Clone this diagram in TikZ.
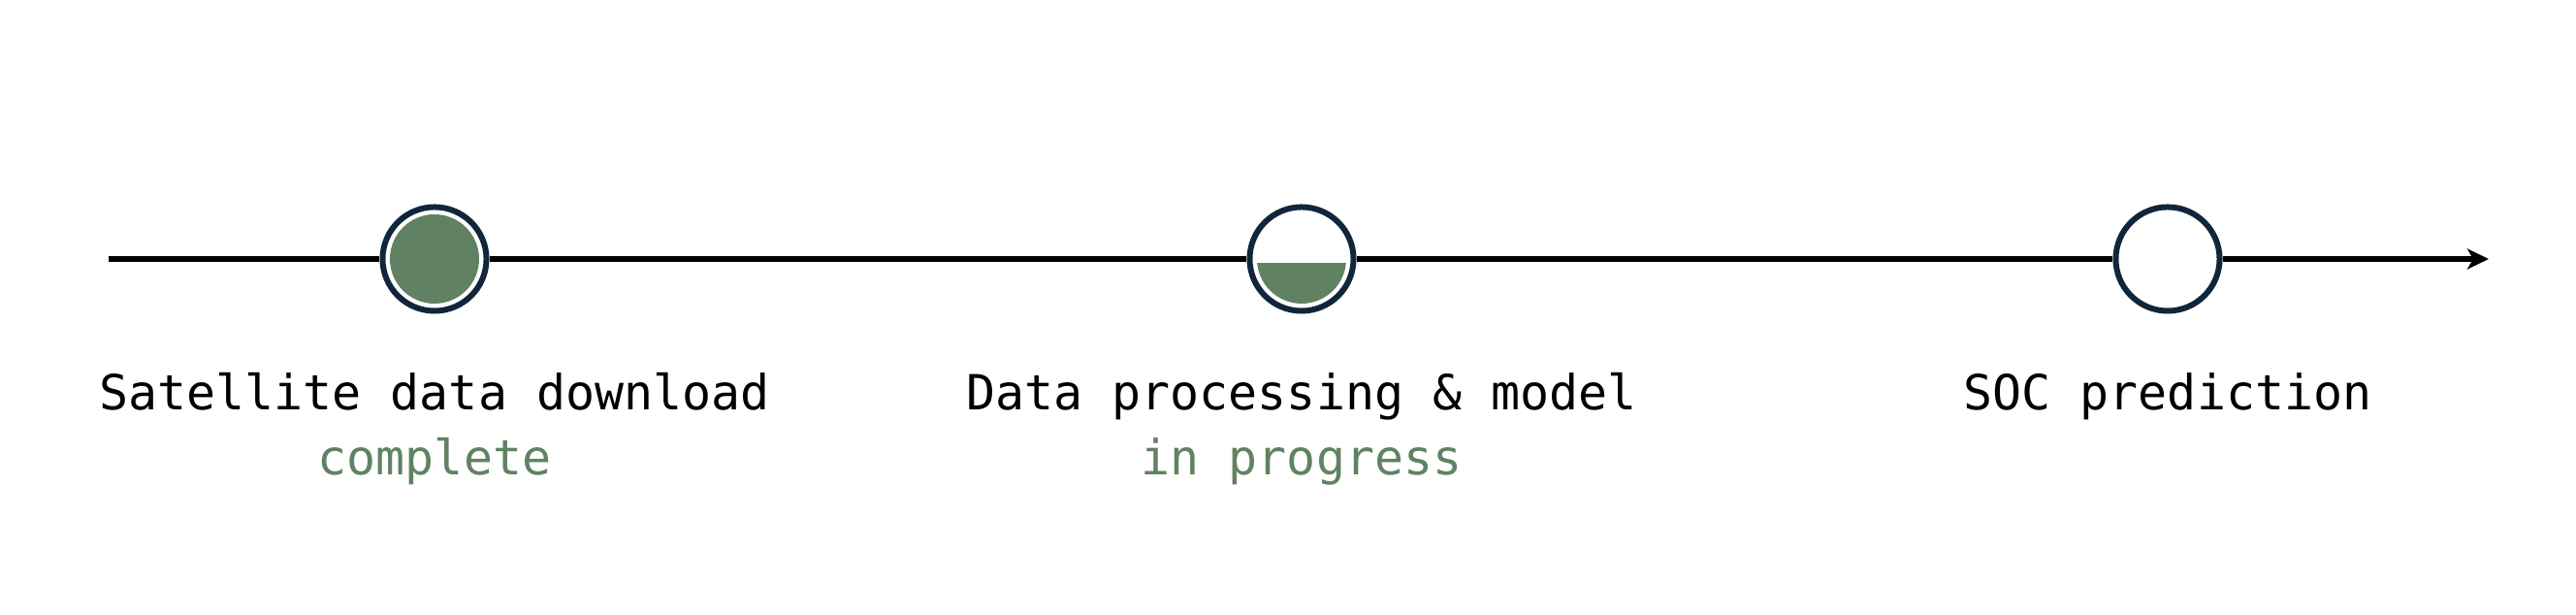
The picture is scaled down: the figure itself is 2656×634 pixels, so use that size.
\documentclass[tikz,border=0pt]{standalone}
\usepackage{fontspec}
\setmonofont{DejaVu Sans Mono}
\usepackage{tikz}
\usetikzlibrary{arrows.meta}
\definecolor{stagegreen}{HTML}{608262}
\definecolor{stagenavy}{HTML}{11263A}

\begin{document}
\begin{tikzpicture}[x=0.01cm,y=0.01cm,
	stage/.style={circle,draw=stagenavy,line width=1.7pt,fill=white,minimum size=1.07cm,inner sep=0pt},
	title/.style={anchor=base,font=\ttfamily\fontsize{14.2}{17}\selectfont},
	status/.style={anchor=base,font=\ttfamily\fontsize{14.2}{17}\selectfont,text=stagegreen},
	axis/.style={line width=1.6pt}]
		\useasboundingbox (0,0) rectangle (2656,634);
		\coordinate (start) at (112,367);
		\coordinate (end) at (2566,367);
		\node [stage] (s1) at (448,367) {};
		\node [stage] (s2) at (1342,367) {};
		\node [stage] (s3) at (2235,367) {};
		\draw [axis] (start) -- (s1);
		\draw [axis] (s1) -- (s2);
		\draw [axis] (s2) -- (s3);
		\draw [axis,-{Stealth[length=0.22cm,width=0.21cm,inset=0.06cm]}] (s3) -- (end);
		% progress fill
		\fill [stagegreen] (s1) circle (46);
		\begin{scope}
			\clip (1290,362.5) rectangle (1394,315);
			\fill [stagegreen] (s2) circle (46);
		\end{scope}
		% labels
		\node [title] (t1) at (448,211) {Satellite data download};
		\node [status] (c1) at (448,144) {complete};
		\node [title] (t2) at (1342,211) {Data processing \& model};
		\node [status] (c2) at (1342,144) {in progress};
		\node [title] (t3) at (2235,211) {SOC prediction};
\end{tikzpicture}
\end{document}
